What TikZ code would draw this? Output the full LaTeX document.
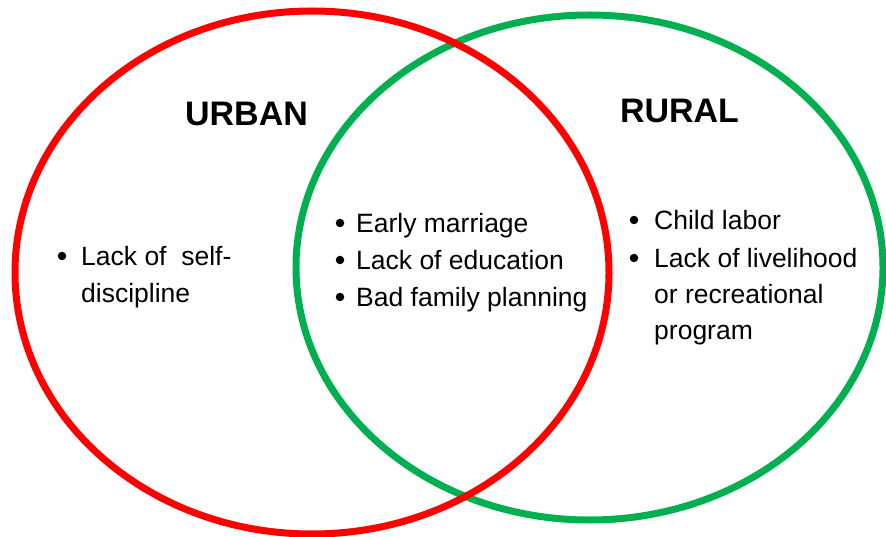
\documentclass[tikz,border=0pt]{standalone}
\usepackage{fontspec}
\setmainfont{Liberation Sans}
\definecolor{urbanred}{HTML}{FF0000}
\definecolor{ruralgreen}{HTML}{00B050}
\begin{document}
\begin{tikzpicture}[x=1pt,y=-1pt,
  ring/.style={line width=7pt},
  heading/.style={font=\fontsize{34}{40}\selectfont\bfseries, anchor=base, inner sep=0pt},
  item/.style={font=\fontsize{26.5}{37}\selectfont, anchor=base west, inner sep=0pt},
  dot/.style={circle, fill=black, inner sep=0pt, minimum size=8.5pt}]
\useasboundingbox (0,0) rectangle (886,537);
% the two sets
\draw[ring, ruralgreen] (589.5,267.5) ellipse [x radius=293.5, y radius=252.5];
\draw[ring, urbanred] (312,272.5) ellipse [x radius=297, y radius=261.5];
% headings
\node[heading] (urban) at (246.5,126) {URBAN};
\node[heading] (rural) at (679.5,123) {RURAL};
% urban only
\node[dot] (u1b) at (62,256) {};
\node[item] (u1) at (81,266) {Lack of \ self-};
\node[item] (u1c) at (81,302) {discipline};
% shared
\node[dot] (s1b) at (340,223) {};
\node[item] (s1) at (356,233) {Early marriage};
\node[dot] (s2b) at (340,260) {};
\node[item] (s2) at (356,270) {Lack of education};
\node[dot] (s3b) at (340,297) {};
\node[item] (s3) at (356,307) {Bad family planning};
% rural only
\node[dot] (r1b) at (634,220) {};
\node[item] (r1) at (654,230) {Child labor};
\node[dot] (r2b) at (634,258) {};
\node[item] (r2) at (654,268) {Lack of livelihood};
\node[item] (r2c) at (654,304) {or recreational};
\node[item] (r2d) at (654,339) {program};
\end{tikzpicture}
\end{document}
